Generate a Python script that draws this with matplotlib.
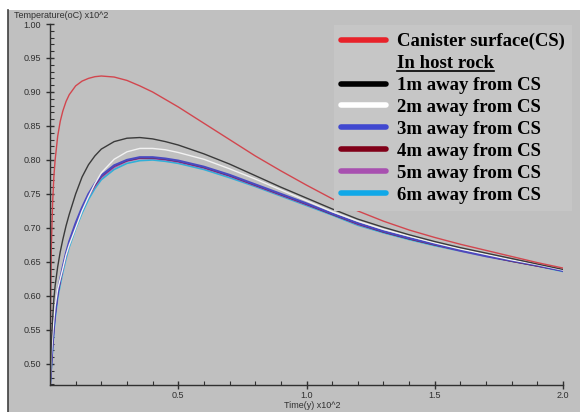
import matplotlib
matplotlib.use("Agg")
import matplotlib.pyplot as plt
from matplotlib.lines import Line2D
from matplotlib.patches import Rectangle

# time in years x10^2
t = [0, 0.0025, 0.005, 0.01, 0.015, 0.02, 0.03, 0.04, 0.05, 0.0625, 0.075, 0.1, 0.125, 0.15, 0.175,
     0.2, 0.25, 0.3, 0.35, 0.4, 0.45, 0.5, 0.6, 0.7, 0.8, 0.9, 1.0, 1.1, 1.2, 1.3, 1.4, 1.5, 1.6,
     1.7, 1.8, 1.9, 2.0]

# temperature (oC) x10^2
canister = [0.469, 0.60, 0.67, 0.735, 0.775, 0.80, 0.835, 0.857, 0.872, 0.886, 0.896, 0.909, 0.916, 0.920, 0.9225,
            0.9235, 0.922, 0.917, 0.909, 0.900, 0.889, 0.878, 0.854, 0.830, 0.806, 0.784, 0.763, 0.743, 0.725,
            0.710, 0.697, 0.686, 0.676, 0.667, 0.658, 0.649, 0.641]
m1 = [0.469, 0.50, 0.53, 0.565, 0.595, 0.615, 0.643, 0.665, 0.683, 0.703, 0.72, 0.75, 0.775, 0.793, 0.806,
      0.816, 0.827, 0.832, 0.833, 0.831, 0.827, 0.822, 0.809, 0.794, 0.777, 0.760, 0.744, 0.728, 0.713,
      0.701, 0.690, 0.680, 0.671, 0.663, 0.655, 0.647, 0.639]
m2 = [0.469, 0.49, 0.51, 0.54, 0.565, 0.585, 0.61, 0.625, 0.64, 0.66, 0.675, 0.70, 0.725, 0.746, 0.765,
      0.781, 0.801, 0.812, 0.817, 0.817, 0.815, 0.811, 0.801, 0.787, 0.772, 0.756, 0.740, 0.724, 0.710,
      0.698, 0.688, 0.678, 0.669, 0.661, 0.653, 0.646, 0.638]
m3 = [0.469, 0.485, 0.50, 0.53, 0.555, 0.575, 0.605, 0.625, 0.643, 0.663, 0.68, 0.707, 0.73, 0.75, 0.765,
      0.777, 0.792, 0.800, 0.804, 0.804, 0.802, 0.799, 0.790, 0.778, 0.764, 0.750, 0.736, 0.721, 0.707,
      0.695, 0.685, 0.676, 0.667, 0.659, 0.652, 0.645, 0.637]
m4 = [0.469, 0.484, 0.499, 0.528, 0.553, 0.573, 0.603, 0.623, 0.641, 0.661, 0.678, 0.705, 0.728, 0.748, 0.763,
      0.776, 0.791, 0.799, 0.803, 0.803, 0.801, 0.798, 0.789, 0.777, 0.763, 0.749, 0.735, 0.720, 0.706,
      0.694, 0.684, 0.675, 0.667, 0.659, 0.651, 0.644, 0.637]
m5 = [0.469, 0.483, 0.497, 0.526, 0.551, 0.571, 0.601, 0.621, 0.639, 0.659, 0.676, 0.703, 0.726, 0.746, 0.761,
      0.774, 0.789, 0.798, 0.802, 0.802, 0.800, 0.797, 0.788, 0.776, 0.762, 0.748, 0.734, 0.720, 0.705,
      0.694, 0.684, 0.675, 0.666, 0.658, 0.651, 0.644, 0.637]
m6 = [0.469, 0.48, 0.493, 0.522, 0.547, 0.567, 0.597, 0.617, 0.635, 0.655, 0.672, 0.699, 0.722, 0.742, 0.758,
      0.771, 0.786, 0.795, 0.799, 0.800, 0.798, 0.795, 0.786, 0.774, 0.761, 0.747, 0.733, 0.719, 0.704,
      0.693, 0.683, 0.674, 0.666, 0.658, 0.651, 0.644, 0.636]

labels = ["Canister surface(CS)", "1m away from CS", "2m away from CS", "3m away from CS",
          "4m away from CS", "5m away from CS", "6m away from CS"]
series = [canister, m1, m2, m3, m4, m5, m6]
line_colors = ["#d2464e", "#3a3a3a", "#f2f2f2", "#4a4ac0", "#7a1020", "#9a50b0", "#30b0d8"]
leg_colors = ["#e8222a", "#000000", "#ffffff", "#4048d0", "#800018", "#a850b0", "#10a8e8"]
widths = [1.0, 1.0, 1.0, 1.6, 1.0, 1.0, 1.2]

fig = plt.figure(figsize=(5.8, 4.12), dpi=100, facecolor="white")
# gray panel with dark left edge
fig.patches.append(Rectangle((8 / 580, 0), 1, 1 - 10 / 412, transform=fig.transFigure,
                             facecolor="#c0c0c0", edgecolor="none", zorder=-10))
fig.add_artist(Line2D([8 / 580, 8 / 580], [0, 1 - 10 / 412], transform=fig.transFigure,
                      color="#404040", lw=1.2))

ax = fig.add_axes([50 / 580, 27 / 412, 513 / 580, 361 / 412])
ax.set_facecolor("none")

# draw order: cyan, purple, dark red, blue on top, then white, black, red
order = [6, 5, 4, 3, 2, 1, 0]
for i in order:
    ax.plot(t, series[i], color=line_colors[i], lw=widths[i])

ax.set_xlim(0, 2.0)
ax.set_ylim(0.469, 1.0)
for s in ["top", "right"]:
    ax.spines[s].set_visible(False)
for s in ["left", "bottom"]:
    ax.spines[s].set_color("#303030")
    ax.spines[s].set_linewidth(1.0)

ax.set_xticks([0.5, 1.0, 1.5, 2.0])
ax.set_xticklabels(["0.5", "1.0", "1.5", "2.0"])
ax.set_xticks([0.1, 0.2, 0.3, 0.4, 0.6, 0.7, 0.8, 0.9, 1.1, 1.2, 1.3, 1.4, 1.6, 1.7, 1.8, 1.9], minor=True)
yt = [0.50, 0.55, 0.60, 0.65, 0.70, 0.75, 0.80, 0.85, 0.90, 0.95, 1.00]
ax.set_yticks(yt)
ax.set_yticklabels(["%.2f" % v for v in yt])
ax.set_yticks([v / 100 for v in range(47, 100) if v % 5 != 0], minor=True)
ax.tick_params(which="major", direction="inout", length=6, width=1, color="#303030",
               labelsize=6.5, labelcolor="#303030")
ax.tick_params(axis="x", which="major", pad=1.5)
ax.tick_params(which="minor", direction="in", length=3, width=0.8, color="#303030")
for lab in ax.get_xticklabels() + ax.get_yticklabels():
    lab.set_family("Liberation Sans")

fig.text(14 / 580, 1 - 15 / 412, "Temperature(oC) x10^2", fontsize=6.5, color="#303030",
         family="Liberation Sans", va="center", ha="left")
fig.text(312 / 580, 1 - 406 / 412, "Time(y) x10^2", fontsize=6.5, color="#303030",
         family="Liberation Sans", va="center", ha="center")

handles = [Line2D([], [], color=leg_colors[0], lw=4, solid_capstyle="round"),
           Line2D([], [], color="none", lw=0)]
for c in leg_colors[1:]:
    handles.append(Line2D([], [], color=c, lw=4, solid_capstyle="round"))
leg_labels = [labels[0], "In host rock"] + labels[1:]
leg = ax.legend(handles, leg_labels, loc="upper right", bbox_to_anchor=(1.0175, 0.996),
                prop={"family": "Liberation Serif", "weight": "bold", "size": 13.5},
                frameon=True, fancybox=False, framealpha=1, facecolor="#c6c6c6",
                edgecolor="none", handlelength=2.4, handletextpad=0.55, labelspacing=0.255,
                borderpad=0.4, borderaxespad=0)

# underline "In host rock"
fig.canvas.draw()
txt = leg.get_texts()[1]
bb = txt.get_window_extent(fig.canvas.get_renderer()).transformed(fig.transFigure.inverted())
fig.add_artist(Line2D([bb.x0, bb.x1], [bb.y0 + 0.004, bb.y0 + 0.004], transform=fig.transFigure,
                      color="black", lw=1.2))

fig.savefig("out.png", dpi=100, facecolor="white")
